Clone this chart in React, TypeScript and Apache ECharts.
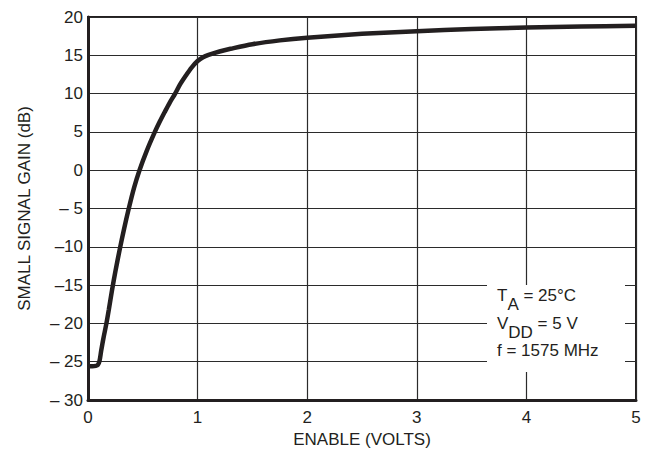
import React, { useEffect, useRef } from "react";
import * as echarts from "echarts";

const xTickLabels = ["0", "1", "2", "3", "4", "5"];
const yTickValues = [-30, -25, -20, -15, -10, -5, 0, 5, 10, 15, 20];
const yTickLabels = ["– 30", "– 25", "– 20", "–15", "–10", "– 5", "0", "5", "10", "15", "20"];

const enableVolts = [0, 0.04, 0.07, 0.09, 0.105, 0.12, 0.14, 0.168, 0.19, 0.22, 0.25, 0.29, 0.33, 0.372, 0.42, 0.47, 0.535, 0.61, 0.655, 0.7, 0.745, 0.795, 0.84, 0.89, 0.945, 1.0, 1.05, 1.1, 1.2, 1.3, 1.5, 1.75, 2, 2.5, 3, 3.5, 4, 4.5, 5];
const gainDb = [-25.6, -25.6, -25.55, -25.4, -24.9, -23.6, -22.0, -20.0, -18.2, -15.6, -13.2, -10.3, -7.6, -5.0, -2.3, 0, 2.5, 5.0, 6.35, 7.6, 8.8, 10.0, 11.2, 12.3, 13.4, 14.25, 14.75, 15.05, 15.5, 15.85, 16.45, 16.95, 17.3, 17.8, 18.15, 18.42, 18.62, 18.76, 18.85];

const FONT = "'Liberation Sans Narrow', 'Liberation Sans', Arial, sans-serif";
const INK = "#231f20";

export default function App() {
  const ref = useRef<HTMLDivElement>(null);
  useEffect(() => {
    document.body.style.margin = "0";
    if (!ref.current) return;
    const chart = echarts.init(ref.current, undefined, { renderer: "svg" });
    const labelMap: Record<string, string> = {};
    yTickValues.forEach((v, i) => (labelMap[String(v)] = yTickLabels[i]));
    const subRich = {
      m: { fontFamily: FONT, fontSize: 17, fill: INK, lineHeight: 24, verticalAlign: "top" },
      s: { fontFamily: FONT, fontSize: 17, fill: INK, lineHeight: 24, padding: [9, 0, 0, 0], verticalAlign: "top" },
    };
    chart.setOption({
      animation: false,
      backgroundColor: "#ffffff",
      grid: {
        left: 88,
        right: 13,
        top: 17,
        bottom: 62,
        show: true,
        borderColor: INK,
        borderWidth: 2,
      },
      xAxis: {
        type: "value",
        min: 0,
        max: 5,
        interval: 1,
        name: "ENABLE (VOLTS)",
        nameLocation: "middle",
        nameGap: 28,
        nameTextStyle: { fontFamily: FONT, fontSize: 17, color: INK },
        axisLine: { show: true, onZero: false, lineStyle: { color: INK, width: 3 } },
        axisTick: { show: false },
        axisLabel: {
          margin: 9,
          fontFamily: FONT,
          fontSize: 17,
          color: INK,
          formatter: (v: number) => xTickLabels[Math.round(v)] ?? "",
        },
        splitLine: { show: true, lineStyle: { color: "#2b2b2b", width: 1.2 } },
      },
      yAxis: {
        type: "value",
        min: -30,
        max: 20,
        interval: 5,
        name: "SMALL SIGNAL GAIN (dB)",
        nameLocation: "middle",
        nameGap: 55,
        nameTextStyle: { fontFamily: FONT, fontSize: 17, color: INK },
        axisLine: { show: true, onZero: false, lineStyle: { color: INK, width: 3 } },
        axisTick: { show: false },
        axisLabel: {
          margin: 5,
          fontFamily: FONT,
          fontSize: 17,
          color: INK,
          formatter: (v: number) => labelMap[String(v)] ?? String(v),
        },
        splitLine: { show: true, lineStyle: { color: "#2b2b2b", width: 1.2 } },
      },
      series: [
        {
          type: "line",
          data: enableVolts.map((x, i) => [x, gainDb[i]]),
          showSymbol: false,
          smooth: 0.3,
          lineStyle: { color: INK, width: 4.5 },
          z: 3,
        },
      ],
      graphic: [
        {
          type: "rect",
          shape: { x: 487, y: 285, width: 138, height: 87 },
          style: { fill: "#ffffff" },
          z: 10,
        },
        {
          type: "text",
          x: 497,
          y: 287,
          z: 11,
          style: { text: "{m|T}{s|A}{m| = 25°C}", rich: subRich },
        },
        {
          type: "text",
          x: 497,
          y: 315,
          z: 11,
          style: { text: "{m|V}{s|DD}{m| = 5 V}", rich: subRich },
        },
        {
          type: "text",
          x: 497,
          y: 342,
          z: 11,
          style: { text: "f = 1575 MHz", fontFamily: FONT, fontSize: 17, fill: INK },
        },
      ],
    });
    return () => chart.dispose();
  }, []);
  return <div ref={ref} style={{ width: 649, height: 462 }} />;
}
